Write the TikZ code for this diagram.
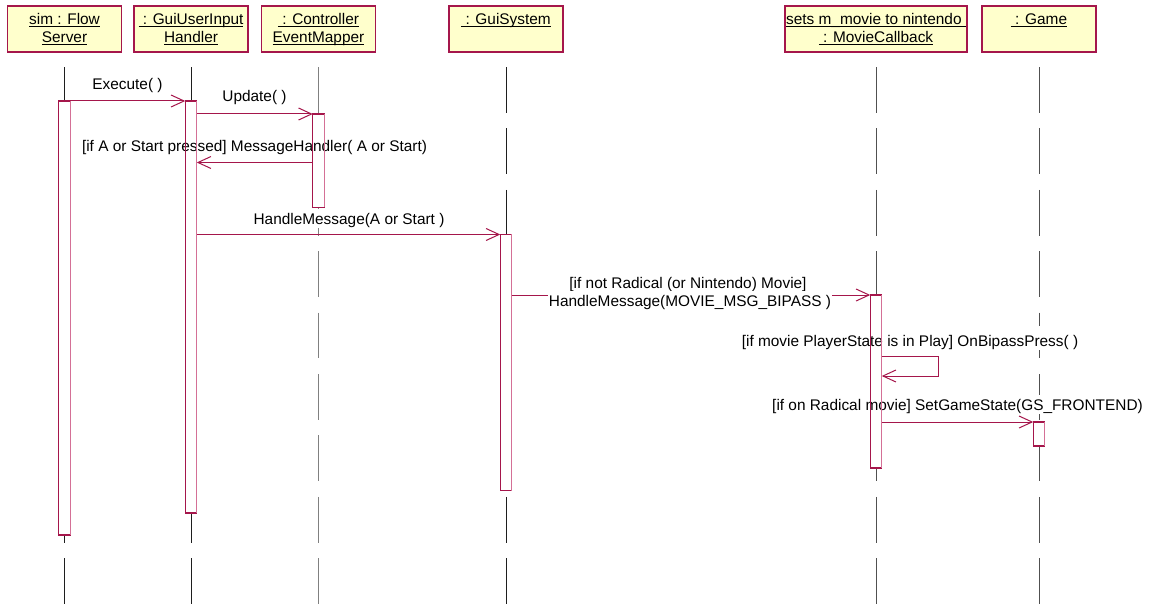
\documentclass[tikz,border=0pt]{standalone}
\usepackage{fontspec}
\setmainfont{Liberation Sans}
\usetikzlibrary{arrows.meta,calc}

\definecolor{crim}{RGB}{165,22,75}
\definecolor{crimlt}{RGB}{212,112,150}
\definecolor{hdrfill}{RGB}{255,255,204}
\definecolor{lifedark}{RGB}{30,30,30}
\definecolor{lifegray}{RGB}{128,128,128}
\definecolor{lifemid}{RGB}{80,80,80}

\newcommand\umlfont{\fontsize{15.4}{18.4}\selectfont}
% underlined object name: rule slightly below the baseline, ignoring descenders
\newcommand\ulx[1]{\setbox0\hbox{#1}\rlap{\rule[-3pt]{\wd0}{1.3pt}}\box0}

\begin{document}
\begin{tikzpicture}[x=1pt,y=-1pt,
  hdr/.style={draw=crim, line width=1.3pt, fill=hdrfill, minimum height=46pt, inner sep=0pt},
  htxt/.style={anchor=base, inner sep=0pt, font=\umlfont},
  life/.style={line width=0.95pt, dash pattern=on 45.7pt off 15.7pt},
  actfill/.style={fill=white, minimum width=11.5pt, inner sep=0pt, outer sep=0pt, anchor=north},
  actborder/.style={draw=crim, line width=1.2pt},
  actshade/.style={draw=crimlt, line width=1.2pt},
  msg/.style={draw=crim, line width=1pt, -{Straight Barb[length=13pt,width=12pt]}},
  lbl/.style={anchor=base, fill=white, font=\umlfont, inner xsep=1pt, inner ysep=0pt,
              text height=16pt, text depth=3.5pt}]

\useasboundingbox (0,0) rectangle (1151,604);

% object headers
\node[hdr, minimum width=114pt] (h1) at (64.5,29) {};
\node[hdr, minimum width=114pt] (h2) at (191,29) {};
\node[hdr, minimum width=114pt] (h3) at (318.5,29) {};
\node[hdr, minimum width=114pt] (h4) at (506,29) {};
\node[hdr, minimum width=182pt] (h5) at (876,29) {};
\node[hdr, minimum width=114pt] (h6) at (1039,29) {};

\node[htxt] (h1a) at ($(h1.north)+(0,19)$) {\ulx{sim : Flow}};
\node[htxt] (h1b) at ($(h1.north)+(0,37)$) {\ulx{Server}};
\node[htxt] (h2a) at ($(h2.north)+(0,19)$) {\ulx{\ : GuiUserInput}};
\node[htxt] (h2b) at ($(h2.north)+(0,37)$) {\ulx{Handler}};
\node[htxt] (h3a) at ($(h3.north)+(0,19)$) {\ulx{\ : Controller}};
\node[htxt] (h3b) at ($(h3.north)+(0,37)$) {\ulx{EventMapper}};
\node[htxt] (h4a) at ($(h4.north)+(0,19)$) {\ulx{\ : GuiSystem}};
\node[htxt] (h5a) at ($(h5.north)+(0,19)$) {\ulx{sets m\_movie to nintendo\ }};
\node[htxt] (h5b) at ($(h5.north)+(0,37)$) {\ulx{\ : MovieCallback}};
\node[htxt] (h6a) at ($(h6.north)+(0,19)$) {\ulx{\ : Game}};

% lifeline ends
\coordinate (e1) at (64.5,604);
\coordinate (e2) at (191,604);
\coordinate (e3) at (318.5,604);
\coordinate (e4) at (506,604);
\coordinate (e5) at (876,604);
\coordinate (e6) at (1039,604);

% lifelines
\draw[life, draw=lifedark] ($(h1.south)+(0,14.4)$) -- (e1);
\draw[life, draw=lifedark] ($(h2.south)+(0,14.4)$) -- (e2);
\draw[life, draw=lifegray] ($(h3.south)+(0,14.4)$) -- (e3);
\draw[life, draw=lifedark] ($(h4.south)+(0,14.4)$) -- (e4);
\draw[life, draw=lifemid]  ($(h5.south)+(0,14.4)$) -- (e5);
\draw[life, draw=lifemid]  ($(h6.south)+(0,14.4)$) -- (e6);

% activation bars (white body hides the lifeline)
\node[actfill, minimum height=434pt]   (a1) at (64.5,101) {};
\node[actfill, minimum height=412pt]   (a2) at (191,101) {};
\node[actfill, minimum height=93.3pt]  (a3) at (318.5,114) {};
\node[actfill, minimum height=256.2pt] (a4) at (506,234.5) {};
\node[actfill, minimum height=173pt]   (a5) at (876,295) {};
\node[actfill, minimum height=24pt]    (a6) at (1039,422) {};

% messages
\draw[msg] (a1.north east) -- (a2.north west);
\draw[msg] ($(a2.north east)+(0,13)$) -- (a3.north west);
\draw[msg] ($(a3.north west)+(0,48.5)$) -- ($(a2.north east)+(0,61.5)$);
\draw[msg] (a2.east |- a4.north) -- (a4.north west);
\draw[msg] (a4.east |- a5.north) -- (a5.north west);
\draw[msg] ($(a5.north east)+(0,61)$) -- ++(56.5,0) -- ++(0,20) -- ($(a5.north east)+(0,81)$);
\draw[msg] (a5.east |- a6.north) -- (a6.north west);

% message labels
\node[lbl] (m1) at (127.5,89.3) {Execute( )};
\node[lbl] (m2) at (254.5,101.7) {Update( )};
\node[lbl] (m3) at (254.5,151.7) {[if A or Start pressed] MessageHandler( A or Start)};
\node[lbl] (m4) at (349,225) {HandleMessage(A or Start )};
\node[lbl] (m5a) at (688,288.3) {[if not Radical (or Nintendo) Movie]};
\node[lbl] (m5b) at (690,306.7) {HandleMessage(MOVIE\_MSG\_BIPASS )};
\node[lbl, text height=20.5pt] (m6) at (910,346.7) {[if movie PlayerState is in Play] OnBipassPress( )};
\node[lbl] (m7) at (957.5,410.7) {[if on Radical movie] SetGameState(GS\_FRONTEND)};

% activation bar outlines, lighter on the right edge
\foreach \a in {a1,a2,a3,a4,a5,a6} {
  \draw[actborder] (\a.north west) rectangle (\a.south east);
  \draw[actshade] (\a.north east) -- (\a.south east);
}
\end{tikzpicture}
\end{document}
